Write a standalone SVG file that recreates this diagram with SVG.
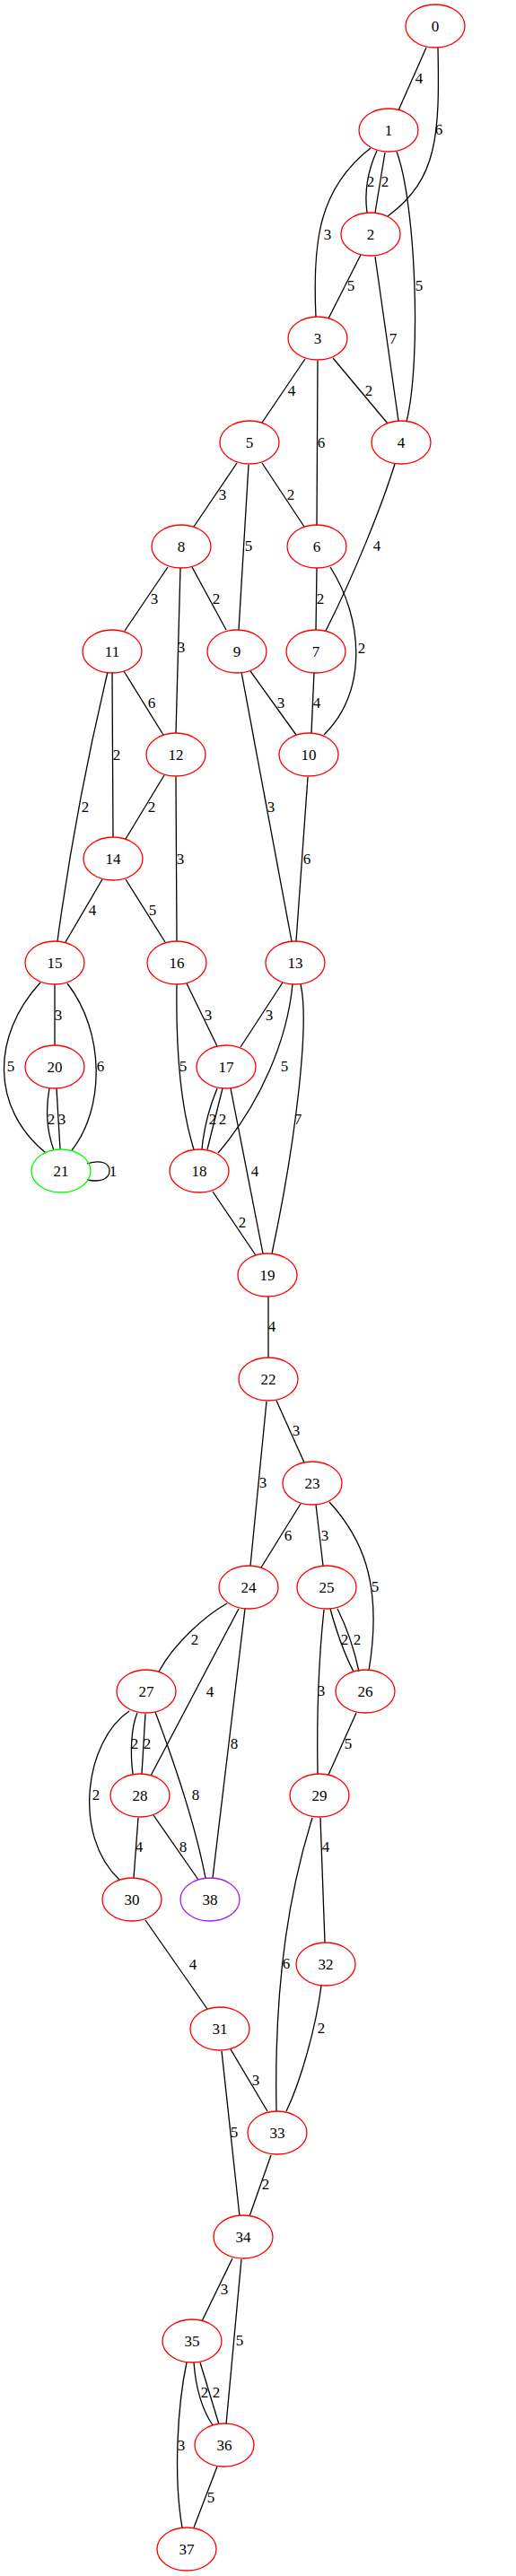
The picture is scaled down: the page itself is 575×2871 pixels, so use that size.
<svg xmlns="http://www.w3.org/2000/svg" width="575" height="2871" viewBox="0 0 575 2871">
<style>
.bg{fill:#fff}
.n ellipse{fill:none;stroke:#ff0000;stroke-width:1.3}
.n text,.e text{font-family:"Liberation Serif","Times New Roman",serif;font-size:17px;text-anchor:middle;fill:#000}
.e path{fill:none;stroke:#000;stroke-width:1.3}
</style>
<rect class="bg" x="0" y="0" width="575" height="2871"/>
<g id="edges" class="e">
<path d="M475,53 L444,123"/><text x="467" y="93">4</text>
<path d="M488,53 C490,150 488,200 432,241"/><text x="489" y="150">6</text>
<path d="M413,165 C355,210 348,270 352,353"/><text x="365" y="267">3</text>
<path d="M420,168 C410,190 406,215 409,237"/><text x="413" y="208">2</text>
<path d="M429,170 L418,237"/><text x="429" y="208">2</text>
<path d="M442,169 C463,225 470,400 453,470"/><text x="467" y="324">5</text>
<path d="M402,284 L366,355"/><text x="391" y="324">5</text>
<path d="M418,286 L444,469"/><text x="438" y="383">7</text>
<path d="M340,400 L292,471"/><text x="325" y="441">4</text>
<path d="M354,402 L353,586"/><text x="358" y="499">6</text>
<path d="M371,399 L432,472"/><text x="411" y="441">2</text>
<path d="M264,516 L216,587"/><text x="248" y="557">3</text>
<path d="M277,518 L266,702"/><text x="277" y="614">5</text>
<path d="M292,516 L339,587"/><text x="324" y="557">2</text>
<path d="M440,517 C425,565 395,640 363,703"/><text x="420" y="614">4</text>
<path d="M187,632 L139,703"/><text x="172" y="673">3</text>
<path d="M201,633 L196,817"/><text x="202" y="727">3</text>
<path d="M214,632 L252,702"/><text x="241" y="673">2</text>
<path d="M353,633 L352,702"/><text x="357" y="673">2</text>
<path d="M368,632 C405,690 410,770 361,819"/><text x="403" y="728">2</text>
<path d="M138,748 L182,819"/><text x="169" y="789">6</text>
<path d="M125,749 L126,933"/><text x="130" y="847">2</text>
<path d="M120,749 Q84,900 64,1049"/><text x="95" y="905">2</text>
<path d="M279,748 L330,819"/><text x="313" y="789">3</text>
<path d="M269,749 L325,1049"/><text x="302" y="905">3</text>
<path d="M350,749 L347,817"/><text x="353" y="789">4</text>
<path d="M343,866 L330,1049"/><text x="342" y="963">6</text>
<path d="M183,864 L140,935"/><text x="169" y="905">2</text>
<path d="M196,866 L197,1049"/><text x="201" y="963">3</text>
<path d="M114,980 L73,1050"/><text x="103" y="1020">4</text>
<path d="M140,980 L184,1050"/><text x="170" y="1020">5</text>
<path d="M61,1097 L61,1165"/><text x="65" y="1137">3</text>
<path d="M45,1095 C-10,1155 -10,1235 51,1285"/><text x="12" y="1194">5</text>
<path d="M75,1096 C117,1150 117,1235 80,1282"/><text x="112" y="1194">6</text>
<path d="M208,1096 L242,1166"/><text x="232" y="1137">3</text>
<path d="M197,1097 C196,1160 200,1230 216,1281"/><text x="204" y="1194">5</text>
<path d="M315,1095 L268,1167"/><text x="300" y="1137">3</text>
<path d="M326,1097 C320,1160 290,1230 243,1285"/><text x="317" y="1194">5</text>
<path d="M335,1097 C345,1140 330,1270 303,1397"/><text x="332" y="1253">7</text>
<path d="M55,1213 C51,1235 52,1260 60,1282"/><text x="57" y="1253">2</text>
<path d="M63,1213 L67,1281"/><text x="69" y="1253">3</text>
<path d="M97,1297 C112,1292 122,1296 122,1305 C122,1314 112,1318 97,1315"/><text x="126" y="1311">1</text>
<path d="M242,1213 C233,1235 227,1258 225,1281"/><text x="237" y="1253">2</text>
<path d="M248,1213 L231,1281"/><text x="248" y="1253">2</text>
<path d="M257,1213 L293,1397"/><text x="284" y="1311">4</text>
<path d="M237,1328 L285,1399"/><text x="270" y="1368">2</text>
<path d="M299,1445 L299,1513"/><text x="303" y="1484">4</text>
<path d="M308,1561 L339,1630"/><text x="330" y="1600">3</text>
<path d="M297,1562 L279,1745"/><text x="293" y="1658">3</text>
<path d="M335,1676 L291,1747"/><text x="321" y="1717">6</text>
<path d="M352,1677 L360,1745"/><text x="362" y="1717">3</text>
<path d="M367,1674 C400,1710 428,1760 411,1862"/><text x="418" y="1774">5</text>
<path d="M253,1787 C230,1800 195,1830 177,1863"/><text x="217" y="1833">2</text>
<path d="M266,1793 L168,1979"/><text x="234" y="1891">4</text>
<path d="M273,1793 L237,2093"/><text x="261" y="1949">8</text>
<path d="M368,1793 C374,1815 382,1840 394,1863"/><text x="384" y="1833">2</text>
<path d="M376,1793 Q392,1825 400,1863"/><text x="398" y="1833">2</text>
<path d="M361,1794 C355,1850 353,1920 354,1977"/><text x="358" y="1890">3</text>
<path d="M397,1909 L366,1978"/><text x="388" y="1949">5</text>
<path d="M144,1907 C95,1940 80,2045 133,2095"/><text x="107" y="2006">2</text>
<path d="M153,1909 C146,1925 145,1955 148,1977"/><text x="150" y="1949">2</text>
<path d="M162,1910 L158,1977"/><text x="164" y="1949">2</text>
<path d="M173,1908 C185,1940 215,2020 229,2093"/><text x="218" y="2006">8</text>
<path d="M154,2026 L149,2093"/><text x="155" y="2064">4</text>
<path d="M171,2023 L221,2095"/><text x="204" y="2064">8</text>
<path d="M357,2026 L362,2165"/><text x="363" y="2064">4</text>
<path d="M348,2026 C325,2100 305,2200 308,2353"/><text x="319" y="2194">6</text>
<path d="M162,2140 L231,2239"/><text x="215" y="2195">4</text>
<path d="M358,2213 C352,2260 335,2320 319,2353"/><text x="358" y="2266">2</text>
<path d="M257,2284 L298,2353"/><text x="285" y="2324">3</text>
<path d="M247,2286 L267,2470"/><text x="261" y="2382">5</text>
<path d="M302,2402 L278,2470"/><text x="296" y="2440">2</text>
<path d="M259,2517 L225,2587"/><text x="250" y="2557">3</text>
<path d="M269,2518 L252,2702"/><text x="267" y="2614">5</text>
<path d="M216,2633 C218,2660 225,2685 237,2703"/><text x="228" y="2672">2</text>
<path d="M223,2633 L244,2702"/><text x="241" y="2672">2</text>
<path d="M208,2633 C198,2680 193,2760 203,2817"/><text x="202" y="2731">3</text>
<path d="M242,2749 L216,2817"/><text x="235" y="2789">5</text>
</g>
<g id="node0" class="n"><ellipse cx="485" cy="29" rx="33" ry="24"/><text x="485" y="35">0</text></g>
<g id="node1" class="n"><ellipse cx="433" cy="145" rx="33" ry="24"/><text x="433" y="151">1</text></g>
<g id="node2" class="n"><ellipse cx="413" cy="261" rx="33" ry="24"/><text x="413" y="267">2</text></g>
<g id="node3" class="n"><ellipse cx="354" cy="377" rx="33" ry="24"/><text x="354" y="383">3</text></g>
<g id="node4" class="n"><ellipse cx="447" cy="493" rx="33" ry="24"/><text x="447" y="499">4</text></g>
<g id="node5" class="n"><ellipse cx="278" cy="493" rx="33" ry="24"/><text x="278" y="499">5</text></g>
<g id="node6" class="n"><ellipse cx="353" cy="609" rx="33" ry="24"/><text x="353" y="615">6</text></g>
<g id="node7" class="n"><ellipse cx="352" cy="726" rx="33" ry="24"/><text x="352" y="732">7</text></g>
<g id="node8" class="n"><ellipse cx="202" cy="609" rx="33" ry="24"/><text x="202" y="615">8</text></g>
<g id="node9" class="n"><ellipse cx="264" cy="726" rx="33" ry="24"/><text x="264" y="732">9</text></g>
<g id="node10" class="n"><ellipse cx="344" cy="841" rx="33" ry="24"/><text x="344" y="847">10</text></g>
<g id="node11" class="n"><ellipse cx="125" cy="726" rx="33" ry="24"/><text x="125" y="732">11</text></g>
<g id="node12" class="n"><ellipse cx="196" cy="841" rx="33" ry="24"/><text x="196" y="847">12</text></g>
<g id="node13" class="n"><ellipse cx="329" cy="1073" rx="33" ry="24"/><text x="329" y="1079">13</text></g>
<g id="node14" class="n"><ellipse cx="126" cy="957" rx="33" ry="24"/><text x="126" y="963">14</text></g>
<g id="node15" class="n"><ellipse cx="61" cy="1073" rx="33" ry="24"/><text x="61" y="1079">15</text></g>
<g id="node16" class="n"><ellipse cx="197" cy="1073" rx="33" ry="24"/><text x="197" y="1079">16</text></g>
<g id="node17" class="n"><ellipse cx="252" cy="1189" rx="33" ry="24"/><text x="252" y="1195">17</text></g>
<g id="node18" class="n"><ellipse cx="222" cy="1305" rx="33" ry="24"/><text x="222" y="1311">18</text></g>
<g id="node19" class="n"><ellipse cx="298" cy="1421" rx="33" ry="24"/><text x="298" y="1427">19</text></g>
<g id="node20" class="n"><ellipse cx="61" cy="1189" rx="33" ry="24"/><text x="61" y="1195">20</text></g>
<g id="node21" class="n"><ellipse cx="68" cy="1305" rx="33" ry="24" style="stroke:#00ff00"/><text x="68" y="1311">21</text></g>
<g id="node22" class="n"><ellipse cx="299" cy="1537" rx="33" ry="24"/><text x="299" y="1543">22</text></g>
<g id="node23" class="n"><ellipse cx="348" cy="1653" rx="33" ry="24"/><text x="348" y="1659">23</text></g>
<g id="node24" class="n"><ellipse cx="277" cy="1769" rx="33" ry="24"/><text x="277" y="1775">24</text></g>
<g id="node25" class="n"><ellipse cx="364" cy="1769" rx="33" ry="24"/><text x="364" y="1775">25</text></g>
<g id="node26" class="n"><ellipse cx="407" cy="1885" rx="33" ry="24"/><text x="407" y="1891">26</text></g>
<g id="node27" class="n"><ellipse cx="163" cy="1885" rx="33" ry="24"/><text x="163" y="1891">27</text></g>
<g id="node28" class="n"><ellipse cx="156" cy="2001" rx="33" ry="24"/><text x="156" y="2007">28</text></g>
<g id="node29" class="n"><ellipse cx="356" cy="2001" rx="33" ry="24"/><text x="356" y="2007">29</text></g>
<g id="node30" class="n"><ellipse cx="147" cy="2117" rx="33" ry="24"/><text x="147" y="2123">30</text></g>
<g id="node31" class="n"><ellipse cx="245" cy="2261" rx="33" ry="24"/><text x="245" y="2267">31</text></g>
<g id="node32" class="n"><ellipse cx="363" cy="2189" rx="33" ry="24"/><text x="363" y="2195">32</text></g>
<g id="node33" class="n"><ellipse cx="309" cy="2377" rx="33" ry="24"/><text x="309" y="2383">33</text></g>
<g id="node34" class="n"><ellipse cx="271" cy="2493" rx="33" ry="24"/><text x="271" y="2499">34</text></g>
<g id="node35" class="n"><ellipse cx="214" cy="2609" rx="33" ry="24"/><text x="214" y="2615">35</text></g>
<g id="node36" class="n"><ellipse cx="250" cy="2725" rx="33" ry="24"/><text x="250" y="2731">36</text></g>
<g id="node37" class="n"><ellipse cx="208" cy="2841" rx="33" ry="24"/><text x="208" y="2847">37</text></g>
<g id="node38" class="n"><ellipse cx="234" cy="2117" rx="33" ry="24" style="stroke:#a020f0"/><text x="234" y="2123">38</text></g>
</svg>
